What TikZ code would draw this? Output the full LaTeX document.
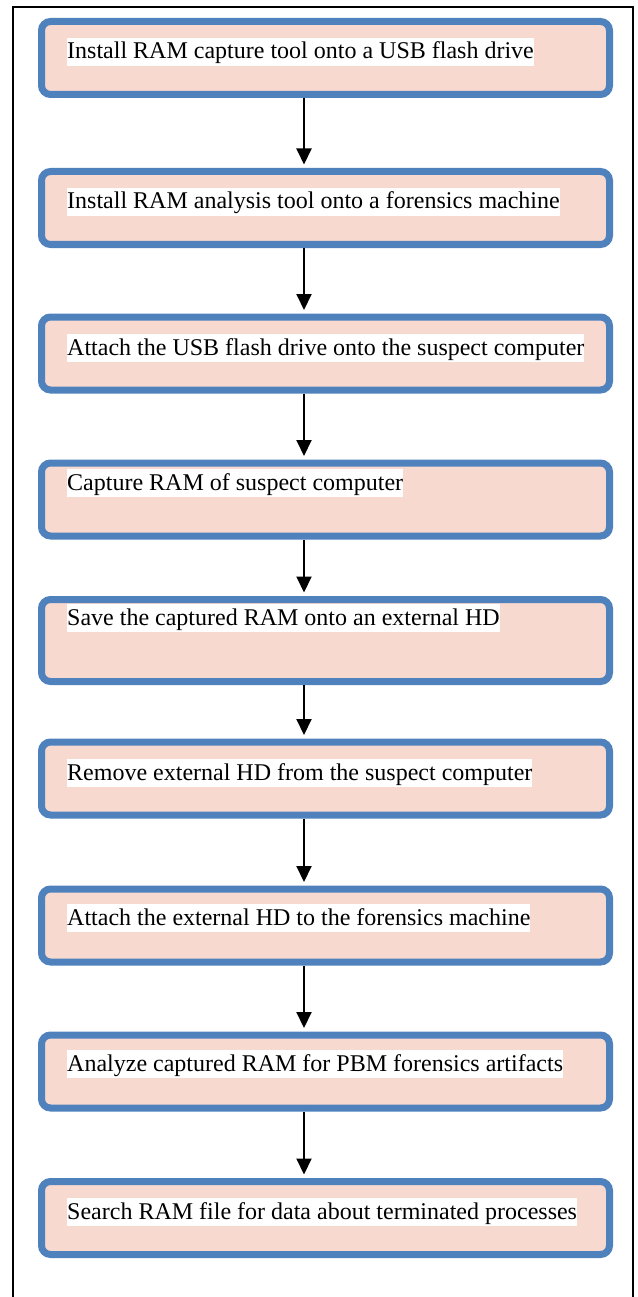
\documentclass[tikz,border=0pt]{standalone}
\usepackage{fontspec}
\setmainfont{Liberation Serif}
\usetikzlibrary{arrows.meta}
\definecolor{flowBlue}{HTML}{4F81BD}
\definecolor{flowPink}{HTML}{F8D9CF}
\begin{document}
\begin{tikzpicture}[x=1pt, y=-1pt]
% Flow of the RAM capture and analysis steps
\def\arrowx{-21.5pt}
\providecommand{\flowBoxLineWidth}{7pt}
\providecommand{\flowBoxRadius}{9pt}
\tikzset{
  stepbox/.style={draw=flowBlue, fill=flowPink, line width=\flowBoxLineWidth,
    rounded corners=\flowBoxRadius, minimum width=568pt, minimum height=73pt, inner sep=0pt},
  steptext/.style={anchor=base west, fill=white, inner sep=0pt, text height=21pt,
    text depth=7pt, font=\fontsize{24}{28}\selectfont},
  flowarrow/.style={-{Triangle[width=15pt,length=16pt]}, line width=2pt, shorten >=3.5pt}
}
\useasboundingbox (0,0) rectangle (637,1297);
% Outer frame, open at the bottom
\draw[line width=1.5pt] (13,1297) -- (13,7) -- (633,7) -- (633,1297);
% Step boxes
\node[stepbox] (usbtool) at (325.5,58) {};
\node[stepbox] (analysistool) at (325.5,208) {};
\node[stepbox] (attachusb) at (325.5,353.5) {};
\node[stepbox] (capture) at (325.5,499.5) {};
\node[stepbox, minimum height=82pt] (saveram) at (325.5,640.5) {};
\node[stepbox] (removehd) at (325.5,778.5) {};
\node[stepbox] (attachhd) at (325.5,925.5) {};
\node[stepbox] (analyze) at (325.5,1071.5) {};
\node[stepbox] (search) at (325.5,1218) {};
% Step texts
\node[steptext] (usbtool-text) at (67,59) {Install RAM capture tool onto a USB flash drive};
\node[steptext] (analysistool-text) at (67,209) {Install RAM analysis tool onto a forensics machine};
\node[steptext] (attachusb-text) at (67,355) {Attach the USB flash drive onto the suspect computer};
\node[steptext] (capture-text) at (67,490) {Capture RAM of suspect computer};
\node[steptext] (saveram-text) at (67,625) {Save the captured RAM onto an external HD};
\node[steptext] (removehd-text) at (67,780) {Remove external HD from the suspect computer};
\node[steptext] (attachhd-text) at (67,925) {Attach the external HD to the forensics machine};
\node[steptext] (analyze-text) at (67,1071) {Analyze captured RAM for PBM forensics artifacts};
\node[steptext] (search-text) at (67,1219) {Search RAM file for data about terminated processes};
% Arrows
\draw[flowarrow] ([xshift=\arrowx]usbtool.south) -- ([xshift=\arrowx]analysistool.north);
\draw[flowarrow] ([xshift=\arrowx]analysistool.south) -- ([xshift=\arrowx]attachusb.north);
\draw[flowarrow] ([xshift=\arrowx]attachusb.south) -- ([xshift=\arrowx]capture.north);
\draw[flowarrow] ([xshift=\arrowx]capture.south) -- ([xshift=\arrowx]saveram.north);
\draw[flowarrow] ([xshift=\arrowx]saveram.south) -- ([xshift=\arrowx]removehd.north);
\draw[flowarrow] ([xshift=\arrowx]removehd.south) -- ([xshift=\arrowx]attachhd.north);
\draw[flowarrow] ([xshift=\arrowx]attachhd.south) -- ([xshift=\arrowx]analyze.north);
\draw[flowarrow] ([xshift=\arrowx]analyze.south) -- ([xshift=\arrowx]search.north);
\end{tikzpicture}
\end{document}
